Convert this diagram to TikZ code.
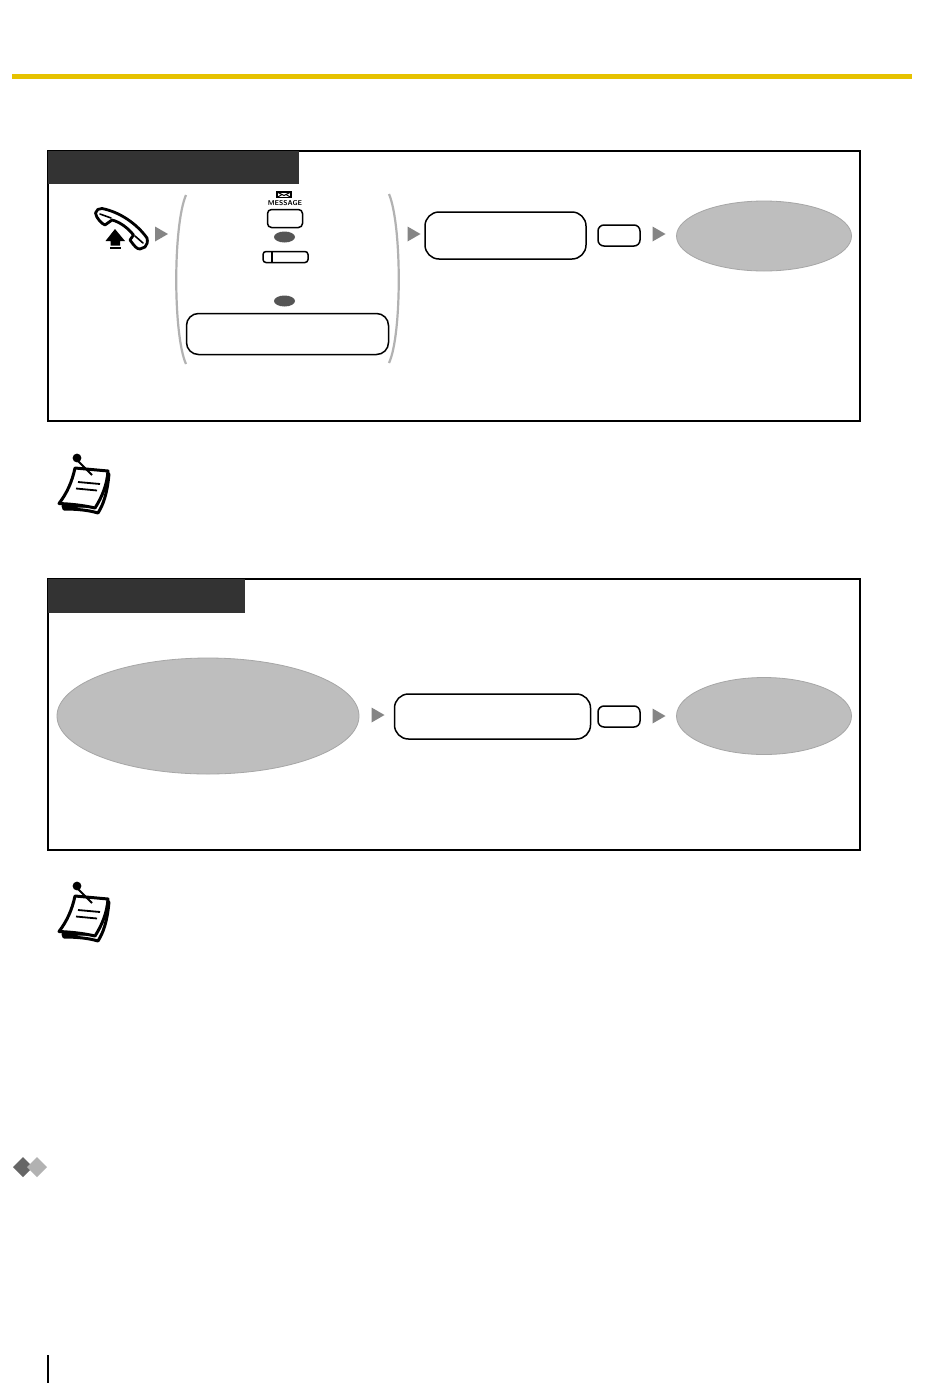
\documentclass[tikz,border=0pt]{standalone}
\usetikzlibrary{shapes.geometric}
\definecolor{hdr}{HTML}{333333}
\definecolor{ell}{HTML}{BEBEBE}
\definecolor{tri}{HTML}{858585}
\definecolor{bar}{HTML}{E6C200}
\definecolor{dot}{HTML}{555555}
\tikzset{
 every node/.style={outer sep=0pt},
 frame/.style={draw=black,line width=1pt,fill=white},
 hdrbox/.style={fill=hdr,draw=none},
 rbox/.style={draw=black,line width=0.75pt,rounded corners=6pt,fill=white},
 gell/.style={draw=black!35,line width=0.4pt,fill=ell},
 tritip/.style={fill=tri,draw=none},
 paren/.style={draw=black!30,line width=1.1pt},
 odot/.style={fill=dot,draw=none},
 pen/.style={draw=black,line width=1pt,line cap=round,line join=round}
}
\newcommand{\tritok}[2]{\fill[tritip] (#1-6.5,#2-7.5) -- (#1+6.5,#2) -- (#1-6.5,#2+7.5) -- cycle;}
\newcommand{\notepad}[2]{%
 \begin{scope}[shift={(#1,#2)}]
  \draw[line width=1.5pt,line join=round,line cap=round,fill=white] (63,506) -- (64,509) .. controls (76,509) and (88,510) .. (98,513) .. controls (103,505) and (107,495) .. (109,474) -- (104,480) -- (94,506) -- cycle;
  \draw[line width=1.5pt,fill=white,line join=round] (75,468) -- (108,471) .. controls (107,485) and (102,497) .. (95,508) .. controls (82,505) and (70,504) .. (59,503.5) .. controls (67,493) and (72,482) .. (75,468) -- cycle;
  \draw[line width=0.9pt] (78,482) -- (100,484);
  \draw[line width=0.9pt] (76,488.5) -- (97,490.5);
  \draw[line width=0.9pt] (77,460) -- (92,475);
  \fill[black] (77,458) circle (4.4);
 \end{scope}}
\begin{document}
\begin{tikzpicture}[x=0.5pt,y=-0.5pt]
\useasboundingbox[fill=white] (0,0) rectangle (950,1397);
\fill[bar] (12,73.5) rectangle (912,79);

% first box
\node[frame,minimum width=406pt,minimum height=135pt,inner sep=0pt,anchor=north west] (frameA) at (48,151) {};
\fill[hdrbox] (48,151) rectangle (299,184);

% handset
\draw[pen,fill=white,line width=1.4pt] (95.5,213) .. controls (96,210) and (99,208) .. (102,208.5) .. controls (120,212) and (137,224) .. (147,238) .. controls (148,242) and (147,245) .. (145,247) -- (140,249) .. controls (137,249) and (135,247) .. (130,240) -- (133.5,235) .. controls (128,228) and (120,222) .. (112,220) -- (105,225) .. controls (102,224) and (96,218) .. (95.5,213) -- cycle;
\draw[pen,line width=0.8pt] (100,214) -- (111,218);
\draw[pen,line width=0.8pt] (135,236) -- (143,243);
\fill[black] (115,229) -- (125,241) -- (120,241) -- (120,245.5) -- (110.5,245.5) -- (110.5,241) -- (105.5,241) -- cycle;
\fill[black] (110,247) rectangle (120.5,249);

\tritok{161.5}{234}
\draw[paren] (186,195) .. controls (173,225) and (173,335) .. (186,364);
\draw[paren] (389,194) .. controls (402,225) and (402,335) .. (389,363);

% MESSAGE button
\draw[line width=0.7pt] (277,192) rectangle (291,197.5);
\draw[line width=0.5pt] (277,192) -- (284,195.5) -- (291,192);
\draw[line width=0.5pt] (277,197.5) -- (282,194.5);
\draw[line width=0.5pt] (291,197.5) -- (286,194.5);
\node[font=\sffamily\bfseries\fontsize{3.5}{4}\selectfont,inner sep=0pt] (msg) at (285,203.5) {MESSAGE};
\node[rbox,rounded corners=2pt,minimum width=17.5pt,minimum height=9pt,inner sep=0pt] (msgbtn) at (285,218.5) {};
\node[odot,ellipse,minimum width=10.5pt,minimum height=5.5pt,inner sep=0pt] (dotA) at (284.5,237) {};
\node[rbox,rounded corners=1.5pt,minimum width=22.5pt,minimum height=5.5pt,inner sep=0pt] (lamp) at (285.5,257) {};
\draw[line width=0.7pt] (272,251.5) -- (272,262.5);
\node[odot,ellipse,minimum width=10.5pt,minimum height=5.5pt,inner sep=0pt] (dotB) at (284.5,301) {};
\node[rbox,minimum width=101pt,minimum height=20.5pt,inner sep=0pt] (wide) at (287.5,334) {};

\tritok{414}{234}
\node[rbox,rounded corners=7pt,minimum width=80.5pt,minimum height=23.5pt,inner sep=0pt] (enterA) at (505.5,235.5) {};
\node[rbox,rounded corners=3pt,minimum width=21pt,minimum height=10.5pt,inner sep=0pt] (keyA) at (619,235.5) {};
\tritok{659}{234}
\node[gell,ellipse,minimum width=87.5pt,minimum height=35pt,inner sep=0pt] (toneA) at (764,236) {};

\notepad{0}{0}

% second box
\node[frame,minimum width=406pt,minimum height=135.5pt,inner sep=0pt,anchor=north west] (frameB) at (48,579) {};
\fill[hdrbox] (48,579) rectangle (245,612.5);
\node[gell,ellipse,minimum width=151pt,minimum height=58pt,inner sep=0pt] (busy) at (208,716) {};
\tritok{378}{715}
\node[rbox,rounded corners=7pt,minimum width=98pt,minimum height=22.5pt,inner sep=0pt] (enterB) at (492.5,716.5) {};
\node[rbox,rounded corners=3pt,minimum width=21pt,minimum height=10.5pt,inner sep=0pt] (keyB) at (619,716.5) {};
\tritok{659}{716}
\node[gell,ellipse,minimum width=87.5pt,minimum height=38.5pt,inner sep=0pt] (toneB) at (764,716) {};

\notepad{0}{428}

% diamonds
\node[diamond,fill=black!60,inner sep=0pt,minimum width=10pt,minimum height=10pt] (dmA) at (23,1167) {};
\node[diamond,fill=black!30,inner sep=0pt,minimum width=10pt,minimum height=10pt] (dmB) at (37,1167) {};

% page margin line
\draw[line width=1pt] (48,1355) -- (48,1383);
\end{tikzpicture}
\end{document}
